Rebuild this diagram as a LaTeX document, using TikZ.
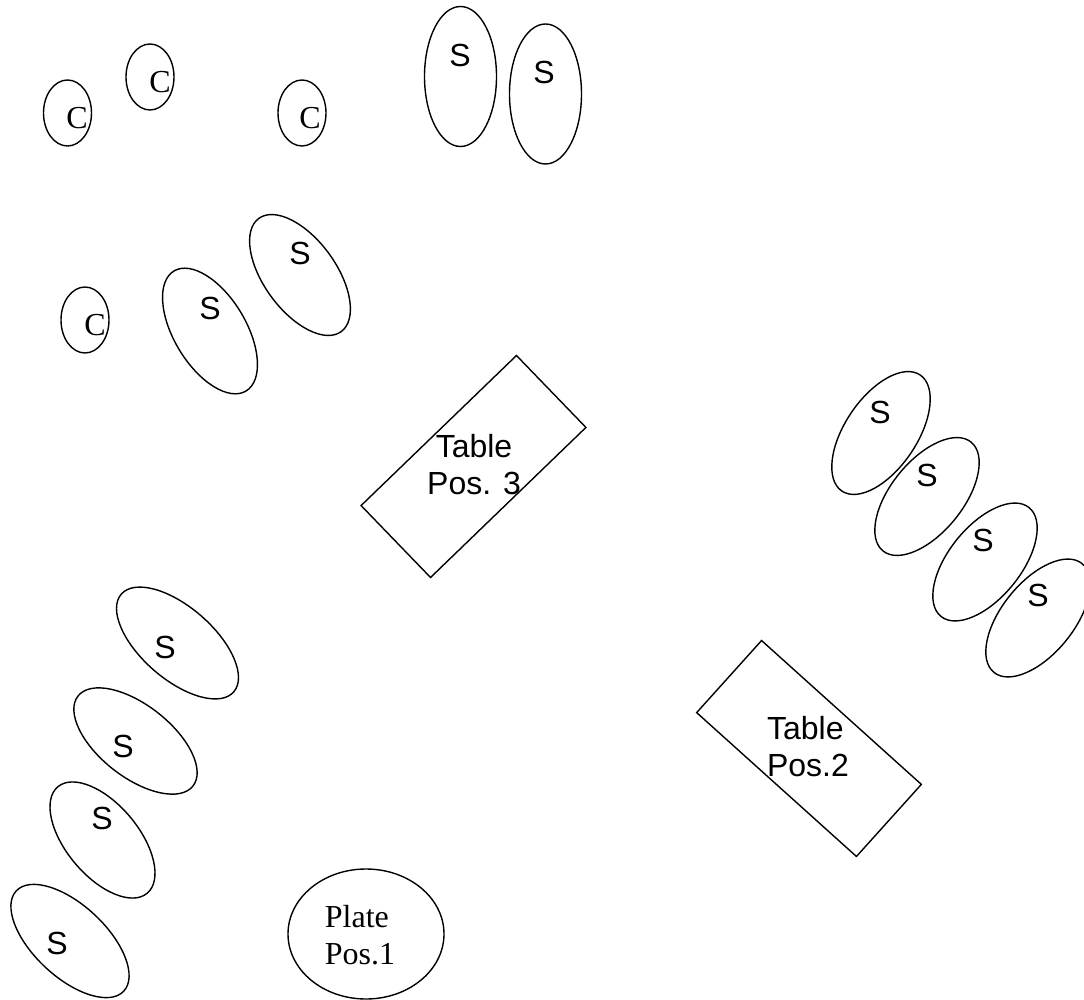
\documentclass[tikz,border=0pt]{standalone}
\usepackage{fontspec}
\setmainfont{Liberation Serif}
\setsansfont{Liberation Sans}
\usetikzlibrary{shapes.geometric}

\begin{document}
\begin{tikzpicture}[x=1pt, y=-1pt,
    seat/.style={draw, ellipse, line width=1.4pt, inner sep=0pt, minimum width=72pt, minimum height=140pt},
    chair/.style={draw, ellipse, line width=1.4pt, inner sep=0pt, minimum width=48pt, minimum height=66pt},
    tablebox/.style={draw, rectangle, line width=1.4pt, inner sep=0pt, minimum width=216pt, minimum height=100pt},
    sanslbl/.style={font=\sffamily\fontsize{32}{37}\selectfont, inner sep=0pt},
    seriflbl/.style={font=\fontsize{32}{37}\selectfont, inner sep=0pt}]
  \useasboundingbox (0,0) rectangle (1084,1000);

  % Chairs
  \node[chair] (chairA) at (67.5,113) {};
  \node[chair] (chairB) at (150,77) {};
  \node[chair] (chairC) at (302,113) {};
  \node[chair] (chairD) at (85,320) {};
  \node[seriflbl] (chairAlbl) at (77,118) {C};
  \node[seriflbl] (chairBlbl) at (160,82) {C};
  \node[seriflbl] (chairClbl) at (310,118) {C};
  \node[seriflbl] (chairDlbl) at (95,325) {C};

  % Seats, top row
  \node[seat] (seatT1) at (460.5,76.5) {};
  \node[seat] (seatT2) at (545.5,94) {};
  \node[sanslbl] (seatT1lbl) at (460,55) {S};
  \node[sanslbl] (seatT2lbl) at (544,72) {S};

  % Seats, tilted pair
  \node[seat, rotate=31] (seatP1) at (210,331) {};
  \node[seat, rotate=36] (seatP2) at (300,275) {};
  \node[sanslbl] (seatP1lbl) at (210,308) {S};
  \node[sanslbl] (seatP2lbl) at (300,253) {S};

  % Seats, right chain
  \node[seat, rotate=-34] (seatR1) at (881,433) {};
  \node[seat, rotate=-39] (seatR2) at (927,496.5) {};
  \node[seat, rotate=-39] (seatR3) at (985,562) {};
  \node[seat, rotate=-39] (seatR4) at (1038,618) {};
  \node[sanslbl] (seatR1lbl) at (880,412) {S};
  \node[sanslbl] (seatR2lbl) at (927,475) {S};
  \node[sanslbl] (seatR3lbl) at (983,540) {S};
  \node[sanslbl] (seatR4lbl) at (1038,595) {S};

  % Seats, left chain
  \node[seat, rotate=49, minimum height=149pt] (seatL1) at (177.5,643) {};
  \node[seat, rotate=52, minimum height=146pt] (seatL2) at (135.5,741) {};
  \node[seat, rotate=40, minimum height=139pt] (seatL3) at (102.5,840) {};
  \node[seat, rotate=47, minimum height=147pt] (seatL4) at (70,941) {};
  \node[sanslbl] (seatL1lbl) at (165,647) {S};
  \node[sanslbl] (seatL2lbl) at (123,746) {S};
  \node[sanslbl] (seatL3lbl) at (102,818) {S};
  \node[sanslbl] (seatL4lbl) at (57,943) {S};

  % Tables
  \node[tablebox, rotate=44] (table3) at (473.5,466.5) {};
  \node[tablebox, rotate=-42, minimum width=215pt, minimum height=97pt] (table2) at (809,748.5) {};
  \node[sanslbl, align=center] (table3lbl) at (474,464.5) {Table\\Pos. 3};
  \node[sanslbl, align=left] (table2lbl) at (808,746.5) {Table\\Pos.2};

  % Plate
  \node[draw, ellipse, line width=1.4pt, inner sep=0pt, minimum width=156pt, minimum height=130pt] (plate) at (366,934) {};
  \node[seriflbl, align=left] (platelbl) at (360,935.5) {Plate\\Pos.1};
\end{tikzpicture}
\end{document}
